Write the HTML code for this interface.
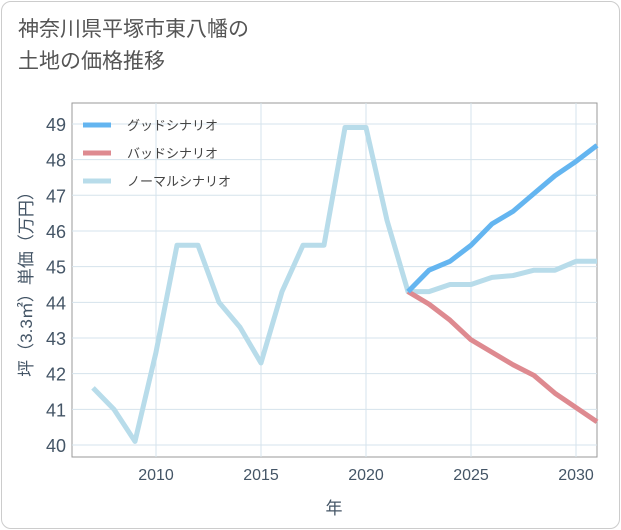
<!DOCTYPE html>
<html><head><meta charset="utf-8"><style>
body{margin:0;background:#fff;font-family:"Liberation Sans","Noto Sans CJK JP",sans-serif;}
#card{position:absolute;left:1px;top:1px;width:617px;height:526px;border:1px solid #ccc;border-radius:10px;background:#fff;}
#title{position:absolute;left:18px;top:14px;font-size:21px;line-height:32px;color:#555;}
</style></head><body>
<div id="card"></div>
<div id="title">神奈川県平塚市東八幡の<br>土地の価格推移</div>
<svg id="chart" width="621" height="530" style="position:absolute;left:0;top:0"></svg>
<script>
const years=[2007,2008,2009,2010,2011,2012,2013,2014,2015,2016,2017,2018,2019,2020,2021,2022,2023,2024,2025,2026,2027,2028,2029,2030,2031];
const normal=[41.6,41.0,40.1,42.6,45.6,45.6,44.0,43.3,42.3,44.3,45.6,45.6,48.9,48.9,46.3,44.3,44.3,44.5,44.5,44.7,44.75,44.9,44.9,45.15,45.15];
const goodYears=[2022,2023,2024,2025,2026,2027,2028,2029,2030,2031];
const good=[44.3,44.9,45.15,45.6,46.2,46.55,47.05,47.55,47.95,48.4];
const bad=[44.3,43.95,43.5,42.95,42.6,42.25,41.95,41.45,41.05,40.65];
const yTicks=[40,41,42,43,44,45,46,47,48,49];
const xTicks=[2010,2015,2020,2025,2030];
const L=72,R=597,T=103,B=457;
const x=v=>156+(v-2010)*21;
const y=v=>445-(v-40)*35.67;
const svg=document.getElementById('chart');
const NS='http://www.w3.org/2000/svg';
function mk(t,a){const e=document.createElementNS(NS,t);for(const k in a)e.setAttribute(k,a[k]);svg.appendChild(e);return e;}
let r=mk('rect',{x:L,y:T,width:R-L,height:B-T,fill:'none',stroke:'#999','stroke-width':1});

yTicks.forEach(v=>{
 let g=mk('line',{x1:L,x2:R,y1:y(v),y2:y(v),stroke:'#d5e3ec','stroke-width':1});
 
 let t=mk('text',{x:L-6,y:y(v)+7,'text-anchor':'end','font-size':18,fill:'#445566'});t.textContent=v;
 
});
xTicks.forEach(v=>{
 let g=mk('line',{x1:x(v),x2:x(v),y1:T,y2:B,stroke:'#d5e3ec','stroke-width':1});
 
 let t=mk('text',{x:x(v),y:B+23,'text-anchor':'middle','font-size':16,fill:'#445566'});t.textContent=v;
 
});
function line(xs,ys,c,name){
 let p=mk('polyline',{points:xs.map((v,i)=>x(v)+','+y(ys[i])).join(' '),fill:'none',stroke:c,'stroke-width':5,'stroke-linejoin':'round'});
 
}
line(years,normal,'#b8dcea','normal-line');
line(goodYears,bad,'#de8a90','bad-line');
line(goodYears,good,'#64b5f0','good-line');
const legNames=['グッドシナリオ','バッドシナリオ','ノーマルシナリオ'];
const legColors=['#64b5f0','#de8a90','#b8dcea'];
legNames.forEach((n,i)=>{
 let ly=125+i*28;
 let l=mk('line',{x1:83,x2:111,y1:ly,y2:ly,stroke:legColors[i],'stroke-width':5});
 
 let t=mk('text',{x:127,y:ly+5,'font-size':13,fill:'#444'});t.textContent=n;
 
});
let xt=mk('text',{x:334,y:514,'text-anchor':'middle','font-size':17,fill:'#445566'});xt.textContent='年';

let yt=mk('text',{x:0,y:0,'text-anchor':'middle','font-size':17,fill:'#445566',transform:'translate(32,280) rotate(-90)'});yt.textContent='坪（3.3㎡）単価（万円）';

</script>
</body></html>
